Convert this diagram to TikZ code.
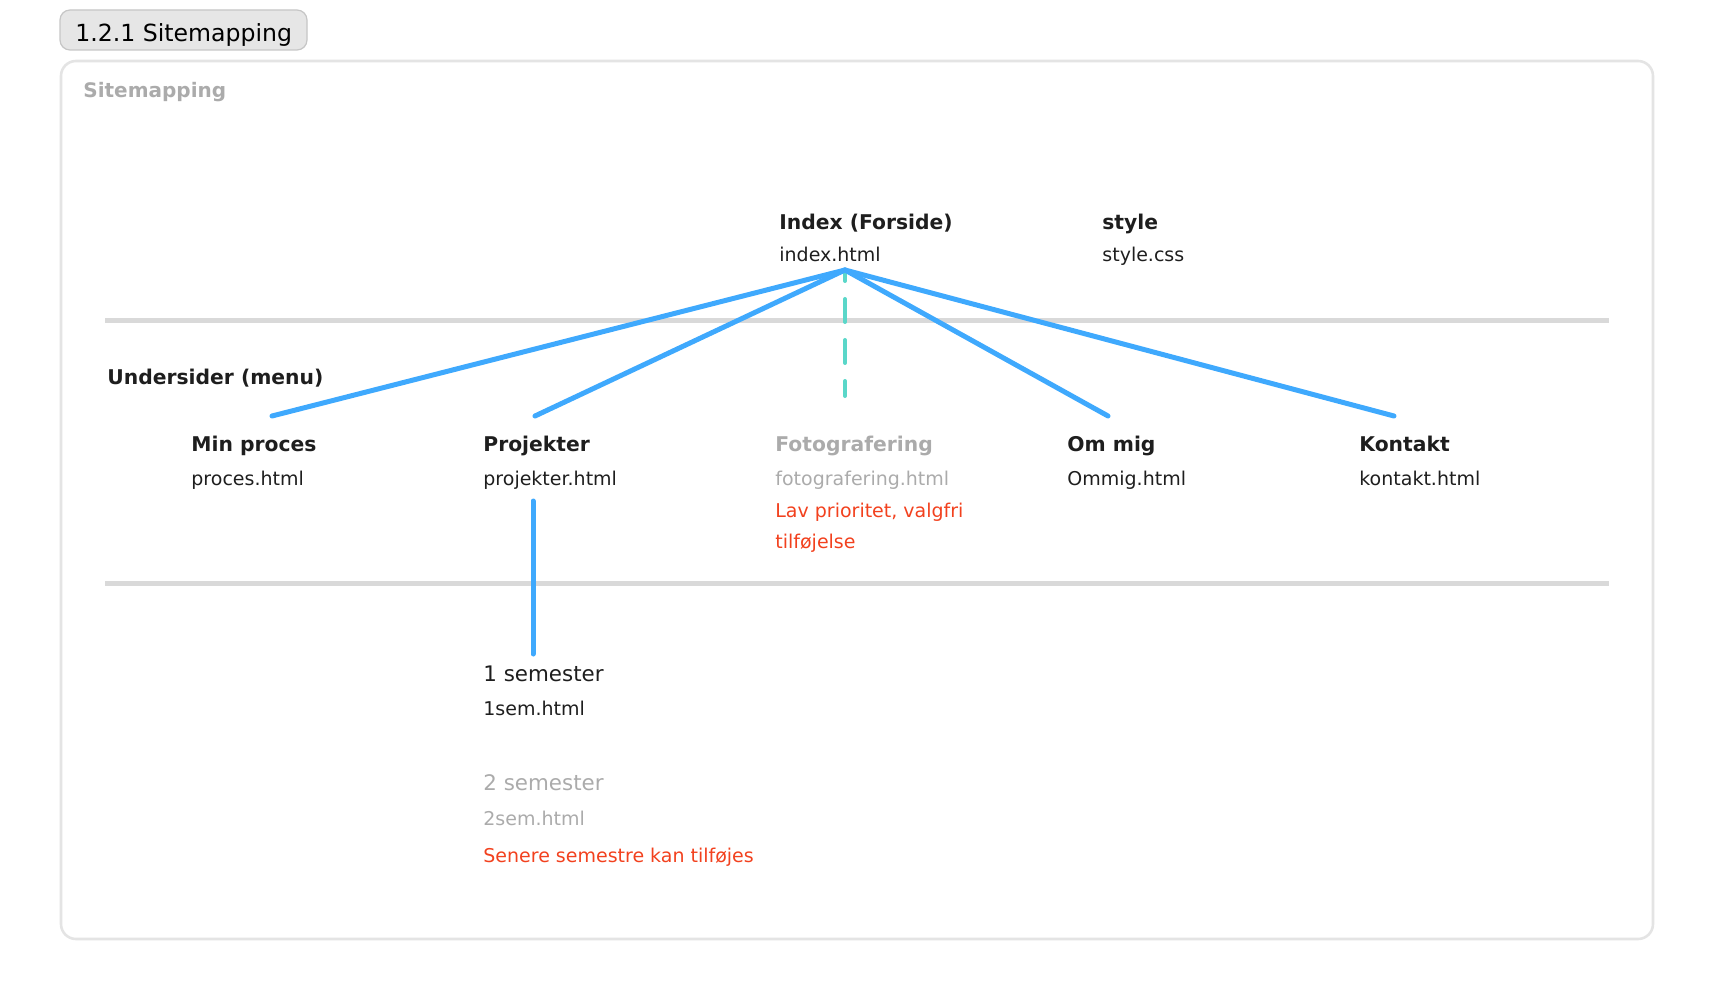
\documentclass[tikz,border=0pt]{standalone}
\usepackage{fontspec}
\setmainfont{DejaVu Sans}

\definecolor{linkblue}{HTML}{3FA9FD}
\definecolor{optteal}{HTML}{5AD7C9}
\definecolor{rulegray}{HTML}{D9D9D9}
\definecolor{framegray}{HTML}{E4E4E4}
\definecolor{tabfill}{HTML}{E6E6E6}
\definecolor{tabline}{HTML}{C6C6C6}
\definecolor{ink}{HTML}{1E1E1E}
\definecolor{dimtext}{HTML}{ABABAB}
\definecolor{notered}{HTML}{F2411E}

\tikzset{
	pagetitle/.style={anchor=base west, inner sep=0pt, text=ink, font=\fontsize{10.15}{12}\selectfont\bfseries},
	pagefile/.style={anchor=base west, inner sep=0pt, text=ink, font=\fontsize{9.5}{11}\selectfont},
	semtitle/.style={anchor=base west, inner sep=0pt, text=ink, font=\fontsize{10.7}{13}\selectfont},
	pagenote/.style={anchor=base west, inner sep=0pt, text=notered, font=\fontsize{9.5}{11}\selectfont},
	link/.style={linkblue, line width=2.5pt, line cap=round},
	optlink/.style={optteal, line width=2pt, line cap=round, dash pattern=on 11.5pt off 9pt, dash phase=6pt},
	levelrule/.style={rulegray, line width=2.5pt}
}

\begin{document}
\begin{tikzpicture}[x=0.5pt, y=-0.5pt]
	\useasboundingbox (0,0) rectangle (1714,1000);

	% Tab and frame
	\draw[draw=tabline, fill=tabfill, rounded corners=5pt, line width=0.6pt] (60,10) rectangle (307,50);
	\node[anchor=base west, inner sep=0pt, font=\fontsize{11.8}{14}\selectfont, text=black] (tab) at (75,42) {1.2.1 Sitemapping};
	\draw[framegray, line width=1.3pt, rounded corners=7.5pt] (61,61) rectangle (1653,939);
	\node[anchor=base west, inner sep=0pt, text=dimtext, font=\fontsize{10}{12}\selectfont\bfseries] (heading) at (83,98) {Sitemapping};

	% Level rules
	\draw[levelrule] (105,321) -- (1609,321);
	\draw[levelrule] (105,583) -- (1609,583);

	% Front page and stylesheet
	\node[pagetitle] (index) at (779,230) {Index (Forside)};
	\node[pagefile] (index-file) at (779,262) {index.html};
	\node[pagetitle] (style) at (1102,230) {style};
	\node[pagefile] (style-file) at (1102,262) {style.css};
	\coordinate (hub) at (845,270);

	% Menu pages
	\node[pagetitle] (menu) at (107,385) {Undersider (menu)};
	\foreach \name/\title/\file/\x/\col in {
			proces/Min proces/proces.html/191/ink,
			projekter/Projekter/projekter.html/483/ink,
			foto/Fotografering/fotografering.html/775/dimtext,
			ommig/Om mig/Ommig.html/1067/ink,
			kontakt/Kontakt/kontakt.html/1359/ink} {
			\node[pagetitle, text=\col] (\name) at (\x,451) {\title};
			\node[pagefile, text=\col] (\name-file) at (\x,485) {\file};
		}
	\node[pagenote] (foto-note) at (775,517) {Lav prioritet, valgfri};
	\node[pagenote] (foto-note2) at (775,548) {tilføjelse};

	% Connector ends
	\coordinate (proces-top) at (272,416);
	\coordinate (projekter-top) at (535,416);
	\coordinate (foto-top) at (845,396);
	\coordinate (ommig-top) at (1108,416);
	\coordinate (kontakt-top) at (1394,416);
	\coordinate (projekter-bottom) at (533,501);
	\coordinate (sem1-top) at (533,654);

	% Draw links
	\draw[optlink] (hub) -- (foto-top);
	\foreach \name in {proces,projekter,ommig,kontakt}
		\draw[link] (hub) -- (\name-top);
	\draw[link] (projekter-bottom) -- (sem1-top);

	% Semester pages
	\node[semtitle] (sem1) at (483,681) {1 semester};
	\node[pagefile] (sem1-file) at (483,715) {1sem.html};
	\node[semtitle, text=dimtext] (sem2) at (483,790) {2 semester};
	\node[pagefile, text=dimtext] (sem2-file) at (483,825) {2sem.html};
	\node[pagenote] (sem-note) at (483,862) {Senere semestre kan tilføjes};
\end{tikzpicture}
\end{document}
